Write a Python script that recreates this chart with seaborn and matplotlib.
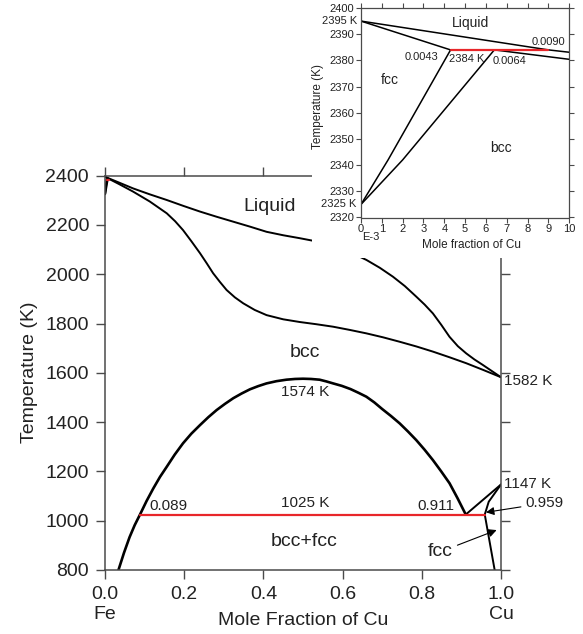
import numpy as np
import pandas as pd
import matplotlib
matplotlib.use("Agg")
import matplotlib.pyplot as plt
from matplotlib.patches import Rectangle
import seaborn as sns

sns.set_style("ticks")
plt.rcParams['font.family'] = ['Liberation Sans', 'DejaVu Sans']

# ---------------- main diagram data (mole fraction Cu, K) ----------------
liq_x = [0.0, 0.035, 0.071, 0.113, 0.156, 0.198, 0.240, 0.282, 0.324, 0.366,
         0.408, 0.450, 0.492, 0.534, 0.576, 0.618, 0.660, 0.694, 0.727, 0.757,
         0.786, 0.807, 0.828, 0.849, 0.870, 0.891, 0.912, 0.933, 0.954, 0.977, 1.0]
liq_T = [2395, 2372, 2348, 2324, 2301, 2277, 2254, 2233, 2213, 2193,
         2172, 2158, 2146, 2133, 2118, 2090, 2058, 2026, 1990, 1952,
         1909, 1877, 1841, 1795, 1746, 1708, 1679, 1654, 1632, 1607, 1582]

sol_x = [0.0, 0.035, 0.071, 0.113, 0.156, 0.177, 0.197, 0.218, 0.240, 0.257,
         0.273, 0.290, 0.307, 0.328, 0.349, 0.378, 0.408, 0.450, 0.492, 0.534,
         0.576, 0.618, 0.660, 0.702, 0.744, 0.786, 0.828, 0.870, 0.912, 0.956, 1.0]
sol_T = [2395, 2366, 2335, 2295, 2247, 2215, 2179, 2134, 2085, 2044,
         2004, 1969, 1936, 1906, 1882, 1855, 1834, 1817, 1806, 1797,
         1787, 1774, 1760, 1744, 1726, 1707, 1686, 1663, 1639, 1611, 1582]

dome_x = [0.034, 0.048, 0.062, 0.075, 0.089, 0.105, 0.122, 0.139, 0.156, 0.176,
          0.197, 0.218, 0.240, 0.261, 0.282, 0.303, 0.324, 0.345, 0.366, 0.387,
          0.408, 0.433, 0.458, 0.480, 0.500, 0.520, 0.542, 0.559, 0.576, 0.598,
          0.620, 0.640, 0.660, 0.680, 0.700, 0.722, 0.744, 0.765, 0.786, 0.807,
          0.828, 0.849, 0.870, 0.890, 0.911]
dome_T = [800, 870, 933, 982, 1027, 1080, 1131, 1178, 1219, 1268,
          1314, 1353, 1388, 1420, 1449, 1474, 1497, 1516, 1533, 1546,
          1557, 1566, 1572, 1575, 1576, 1575, 1572, 1565, 1557, 1547,
          1534, 1519, 1503, 1480, 1453, 1425, 1395, 1362, 1327, 1288,
          1246, 1200, 1152, 1092, 1025]

bccfcc_x = [0.911, 1.0]
bccfcc_T = [1025, 1147]
fcc_up_x = [0.959, 0.969, 1.0]
fcc_up_T = [1025, 1077, 1147]
fcc_solv_x = [0.959, 0.984]
fcc_solv_T = [1025, 800]

eut_x = [0.089, 0.959]
eut_T = [1025, 1025]

# ---------------- inset data (mole fraction Cu x 1e-3, K) ----------------
in_liq_x = [0.0, 9.0, 10.0]
in_liq_T = [2395, 2384, 2383.1]
in_fccsol_x = [0.0, 4.3]
in_fccsol_T = [2395, 2384]
in_fcc_x = [4.3, 1.3, 0.0]
in_fcc_T = [2384, 2342, 2325]
in_bcc_x = [6.4, 2.0, 0.0]
in_bcc_T = [2384, 2342, 2325]
in_bccsol_x = [6.4, 10.0]
in_bccsol_T = [2384, 2380.4]
in_peri_x = [4.3, 9.0]
in_peri_T = [2384, 2384]

main_yticks = [800, 1000, 1200, 1400, 1600, 1800, 2000, 2200, 2400]
main_xticks = [0.0, 0.2, 0.4, 0.6, 0.8, 1.0]
main_xlabels = ["0.0\nFe", "0.2", "0.4", "0.6", "0.8", "1.0\nCu"]
in_yticks = [2320, 2330, 2340, 2350, 2360, 2370, 2380, 2390, 2400]
in_xticks = list(range(0, 11))

RED = "#e8262a"
SPINE = "#4a4a4a"
TXT = "#222222"


def draw(ax, x, y, color="black", lw=1.4):
    sns.lineplot(x=x, y=y, ax=ax, color=color, lw=lw, sort=False,
                 estimator=None, legend=False)


fig = plt.figure(figsize=(5.83, 6.34), dpi=100)
ax = fig.add_axes([105 / 583, 64 / 634, 396 / 583, 394.4 / 634])

draw(ax, liq_x, liq_T)
draw(ax, sol_x, sol_T)
draw(ax, dome_x, dome_T, lw=1.9)
draw(ax, bccfcc_x, bccfcc_T)
draw(ax, fcc_up_x, fcc_up_T)
draw(ax, fcc_solv_x, fcc_solv_T)
draw(ax, eut_x, eut_T, color=RED, lw=1.6)
# inset features at true scale (near pure Fe)
s = 1e-3
draw(ax, [v * s for v in in_fcc_x], in_fcc_T, lw=1.6)
draw(ax, [v * s for v in in_bcc_x], in_bcc_T, lw=1.6)
draw(ax, [v * s for v in in_peri_x], in_peri_T, color=RED, lw=1.6)

ax.set_xlim(0, 1)
ax.set_ylim(800, 2400)
ax.set_xticks(main_xticks)
ax.set_xticklabels(main_xlabels)
ax.set_yticks(main_yticks)
ax.tick_params(axis="both", which="major", direction="out", length=6.5,
               width=1, color=SPINE, labelsize=14, labelcolor=TXT, pad=5,
               top=True, right=True, labeltop=False, labelright=False)
for sp in ax.spines.values():
    sp.set_visible(True)
    sp.set_color(SPINE)
    sp.set_linewidth(1.1)

ax.set_xlabel("Mole Fraction of Cu", fontsize=14, color=TXT)
ax.xaxis.set_label_coords(0.5, -0.129)
ax.xaxis.label.set_va("center")
ax.set_ylabel("Temperature (K)", fontsize=14, color=TXT)
ax.yaxis.set_label_coords(-0.19, 0.502)
ax.yaxis.label.set_va("center")

ax.text(0.416, 2273, "Liquid", fontsize=14, ha="center", va="center", color=TXT)
ax.text(0.504, 1684, "bcc", fontsize=14, ha="center", va="center", color=TXT)
ax.text(0.502, 915, "bcc+fcc", fontsize=14, ha="center", va="center", color=TXT)
ax.text(0.506, 1523, "1574 K", fontsize=11, ha="center", va="center", color=TXT)
ax.text(0.506, 1070, "1025 K", fontsize=11, ha="center", va="center", color=TXT)
ax.text(0.113, 1061, "0.089", fontsize=11, ha="left", va="center", color=TXT)
ax.text(0.836, 1061, "0.911", fontsize=11, ha="center", va="center", color=TXT)
ax.text(1.007, 1568, "1582 K", fontsize=11, ha="left", va="center",
        color=TXT, clip_on=False)
ax.text(1.007, 1148, "1147 K", fontsize=11, ha="left", va="center",
        color=TXT, clip_on=False)
ax.annotate("0.959", xy=(0.962, 1034), xytext=(1.062, 1071),
            fontsize=11, ha="left", va="center", color=TXT,
            annotation_clip=False,
            arrowprops=dict(arrowstyle="-|>", color="black", lw=0.8,
                            mutation_scale=12, shrinkA=1, shrinkB=0))
ax.annotate("fcc", xy=(0.989, 962), xytext=(0.847, 874),
            fontsize=14, ha="center", va="center", color=TXT,
            annotation_clip=False,
            arrowprops=dict(arrowstyle="-|>", color="black", lw=0.8,
                            mutation_scale=12, shrinkA=1, shrinkB=0))

# white panel behind the inset
fig.patches.append(Rectangle((312 / 583, (634 - 258) / 634), 1, 1,
                             transform=fig.transFigure, facecolor="white",
                             edgecolor="none", zorder=1))

# ---------------- inset ----------------
ai = fig.add_axes([361 / 583, (634 - 217.5) / 634, 208.3 / 583, 209.5 / 634])
ai.set_zorder(2)
ai.set_facecolor("white")
draw(ai, in_liq_x, in_liq_T, lw=1.1)
draw(ai, in_fccsol_x, in_fccsol_T, lw=1.1)
draw(ai, in_fcc_x, in_fcc_T, lw=1.1)
draw(ai, in_bcc_x, in_bcc_T, lw=1.1)
draw(ai, in_bccsol_x, in_bccsol_T, lw=1.1)
draw(ai, in_peri_x, in_peri_T, color=RED, lw=1.6)

ai.set_xlim(0, 10)
ai.set_ylim(2320, 2400)
ai.set_xticks(in_xticks)
ai.set_yticks(in_yticks)
ai.tick_params(axis="both", which="major", direction="out", length=3.5,
               width=0.8, color=SPINE, labelsize=8, labelcolor=TXT, pad=1.5,
               top=True, right=True, labeltop=False, labelright=False)
for sp in ai.spines.values():
    sp.set_visible(True)
    sp.set_color(SPINE)
    sp.set_linewidth(0.9)

ai.set_xlabel("Mole fraction of Cu", fontsize=8.5, color=TXT)
ai.xaxis.set_label_coords(0.53, -0.131)
ai.xaxis.label.set_va("center")
ai.set_ylabel("Temperature (K)", fontsize=8.5, color=TXT)
ai.yaxis.set_label_coords(-0.206, 0.53)
ai.yaxis.label.set_va("center")

ai.text(5.27, 2394.4, "Liquid", fontsize=10, ha="center", va="center", color=TXT)
ai.text(1.37, 2372.5, "fcc", fontsize=10, ha="center", va="center", color=TXT)
ai.text(6.72, 2346.4, "bcc", fontsize=10, ha="center", va="center", color=TXT)
ai.text(9.01, 2387.1, "0.0090", fontsize=8, ha="center", va="center", color=TXT)
ai.text(2.91, 2381.2, "0.0043", fontsize=8, ha="center", va="center", color=TXT)
ai.text(5.05, 2380.5, "2384 K", fontsize=8, ha="center", va="center", color=TXT)
ai.text(7.12, 2379.9, "0.0064", fontsize=8, ha="center", va="center", color=TXT)
ai.text(-0.2, 2395, "2395 K", fontsize=8, ha="right", va="center",
        color=TXT, clip_on=False)
ai.text(-0.2, 2325, "2325 K", fontsize=8, ha="right", va="center",
        color=TXT, clip_on=False)
ai.text(0.048, -0.094, "E-3", fontsize=8, ha="center", va="center",
        color=TXT, transform=ai.transAxes)

fig.savefig("out.png", dpi=100, facecolor="white")
